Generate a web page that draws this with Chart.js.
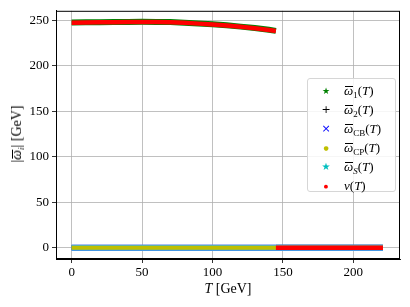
<!DOCTYPE html>
<html lang="en">
  <head>
    <meta charset="UTF-8" />
    <title>Condensates vs temperature</title>
    <script src="https://cdn.jsdelivr.net/npm/chart.js"></script>
    <style>
      * {
        margin: 0;
        padding: 0;
        box-sizing: border-box;
      }
      body {
        width: 410px;
        height: 307px;
        background: #fff;
        font-family: "Liberation Serif", "DejaVu Serif", serif;
        color: #000;
        overflow: hidden;
      }
      .wrap {
        position: relative;
        width: 410px;
        height: 307px;
      }
      .ytitle {
        position: absolute;
        left: 17px;
        top: 134px;
        transform: translate(-50%, -50%) rotate(-90deg);
        font-size: 14px;
        white-space: nowrap;
      }
      .xtitle {
        position: absolute;
        left: 228px;
        top: 289px;
        transform: translate(-50%, -50%);
        font-size: 14px;
        white-space: nowrap;
      }
      .ol {
        position: relative;
        font-style: italic;
      }
      .ol::before {
        content: "";
        position: absolute;
        left: 1px;
        right: 0;
        top: 3px;
        border-top: 1px solid #000;
      }
      i {
        font-style: italic;
      }
      sub {
        font-size: 9px;
        vertical-align: -3px;
        line-height: 0;
      }
      .legend {
        position: absolute;
        left: 307px;
        top: 78px;
        width: 89px;
        height: 114px;
        border: 1px solid #d6d6d6;
        border-radius: 3px;
        background: rgba(255, 255, 255, 0.85);
        padding-top: 2px;
      }
      .legend .row {
        height: 19px;
        display: flex;
        align-items: center;
        font-size: 13px;
        white-space: nowrap;
      }
      .legend .mk {
        width: 36px;
        text-align: center;
        font-family: "DejaVu Sans", sans-serif;
        font-size: 9px;
      }
    </style>
  </head>
  <body>
    <div class="wrap">
      <canvas id="chart" width="410" height="307"></canvas>
      <div class="ytitle">|<span class="ol">ω</span><sub><i>i</i></sub>| [GeV]</div>
      <div class="xtitle"><i>T</i> [GeV]</div>
      <div class="legend">
        <div class="row"><span class="mk" style="color:#008000">★</span><span><span class="ol">ω</span><sub>1</sub>(<i>T</i>)</span></div>
        <div class="row"><span class="mk" style="color:#000;font-size:11px">+</span><span><span class="ol">ω</span><sub>2</sub>(<i>T</i>)</span></div>
        <div class="row"><span class="mk" style="color:#0000ff;font-size:11px">×</span><span><span class="ol">ω</span><sub>CB</sub>(<i>T</i>)</span></div>
        <div class="row"><span class="mk" style="color:#bfbf00;font-size:6px">●</span><span><span class="ol">ω</span><sub>CP</sub>(<i>T</i>)</span></div>
        <div class="row"><span class="mk" style="color:#00bfbf;font-size:10px">★</span><span><span class="ol">ω</span><sub><i>S</i></sub>(<i>T</i>)</span></div>
        <div class="row"><span class="mk" style="color:#ff0000;font-size:5px">●</span><span><i>v</i>(<i>T</i>)</span></div>
      </div>
    </div>

    <script>
      // broken phase: T below the transition (GeV)
      const tBroken = [0, 10, 20, 30, 40, 50, 60, 70, 80, 90, 100, 110, 120, 130, 140, 145];
      const w1Broken = [247.5, 247.7, 247.9, 248.1, 248.2, 248.3, 248.2, 248.0, 247.4, 246.5, 245.5, 244.4, 243.0, 241.4, 239.6, 238.3];
      const vBroken = [247.3, 247.5, 247.7, 247.9, 248.0, 248.1, 248.0, 247.8, 247.2, 246.3, 245.3, 244.2, 242.8, 241.2, 239.4, 238.1];
      // symmetric phase
      const tSym = [145, 160, 180, 200, 221];
      const vSym = [0, 0, 0, 0, 0];
      const w1Sym = [0, 0, 0, 0, 0];
      // the other condensates stay at zero over the whole range
      const tAll = [0, 50, 100, 145, 150, 200, 221];
      const w2All = [0, 0, 0, 0, 0, 0, 0];
      const wCBAll = [0, 0, 0, 0, 0, 0, 0];
      const wCPAll = [0, 0, 0, 0, 0, 0, 0];
      const wSAll = [0, 0, 0, 0, 0, 0, 0];

      const xTicks = [0, 50, 100, 150, 200];
      const yTicks = [0, 50, 100, 150, 200, 250];

      const pts = (xs, ys) => xs.map((x, i) => ({ x: x, y: ys[i] }));
      // join two pieces with a gap so no line is drawn across the jump
      const joined = (xa, ya, xb, yb) =>
        pts(xa, ya).concat([{ x: xa[xa.length - 1], y: null }], pts(xb, yb));

      const line = (data, color, width, order) => ({
        data: data,
        showLine: true,
        spanGaps: false,
        borderColor: color,
        backgroundColor: color,
        borderWidth: width,
        pointRadius: 0,
        order: order,
      });

      const frame = {
        id: "frame",
        afterDatasetsDraw(chart) {
          const a = chart.chartArea;
          const ctx = chart.ctx;
          ctx.save();
          ctx.strokeStyle = "#000";
          ctx.lineWidth = 1;
          ctx.strokeRect(a.left + 0.5, a.top + 0.5, a.right - a.left - 1, a.bottom - a.top - 1);
          ctx.restore();
        },
      };

      const tickFont = { family: "'Liberation Serif', serif", size: 13 };

      new Chart(document.getElementById("chart"), {
        type: "scatter",
        data: {
          datasets: [
            line(joined(tBroken, w1Broken, tSym, w1Sym), "#008000", 6, 6),
            line(pts(tAll, w2All), "#000000", 5, 5),
            line(pts(tAll, wCBAll), "#4f7fef", 6.5, 4),
            line(pts(tAll, wCPAll), "#bfbf00", 4, 2),
            line(pts(tAll, wSAll), "#3fb0d8", 5.5, 3),
            line(joined(tBroken, vBroken, tSym, vSym), "#ff0000", 4.5, 1),
          ],
        },
        options: {
          responsive: false,
          animation: false,
          layout: { padding: { top: 9, right: 10, left: 0, bottom: 0 } },
          plugins: {
            legend: { display: false },
            tooltip: { enabled: false },
          },
          scales: {
            x: {
              type: "linear",
              min: -11.1,
              max: 233.1,
              afterBuildTicks: (s) => {
                s.ticks = xTicks.map((v) => ({ value: v }));
              },
              afterFit: (s) => {
                s.height = 48;
              },
              grid: { color: "#b0b0b0", lineWidth: 0.8, tickLength: 4, tickColor: "#000" },
              border: { color: "#000", width: 1 },
              ticks: { font: tickFont, color: "#000", padding: 2, maxRotation: 0 },
            },
            y: {
              type: "linear",
              min: -12.4,
              max: 260.4,
              afterBuildTicks: (s) => {
                s.ticks = yTicks.map((v) => ({ value: v }));
              },
              afterFit: (s) => {
                s.width = 56;
              },
              grid: { color: "#b0b0b0", lineWidth: 0.8, tickLength: 4, tickColor: "#000" },
              border: { color: "#000", width: 1 },
              ticks: { font: tickFont, color: "#000", padding: 3 },
            },
          },
        },
        plugins: [frame],
      });
    </script>
  </body>
</html>
